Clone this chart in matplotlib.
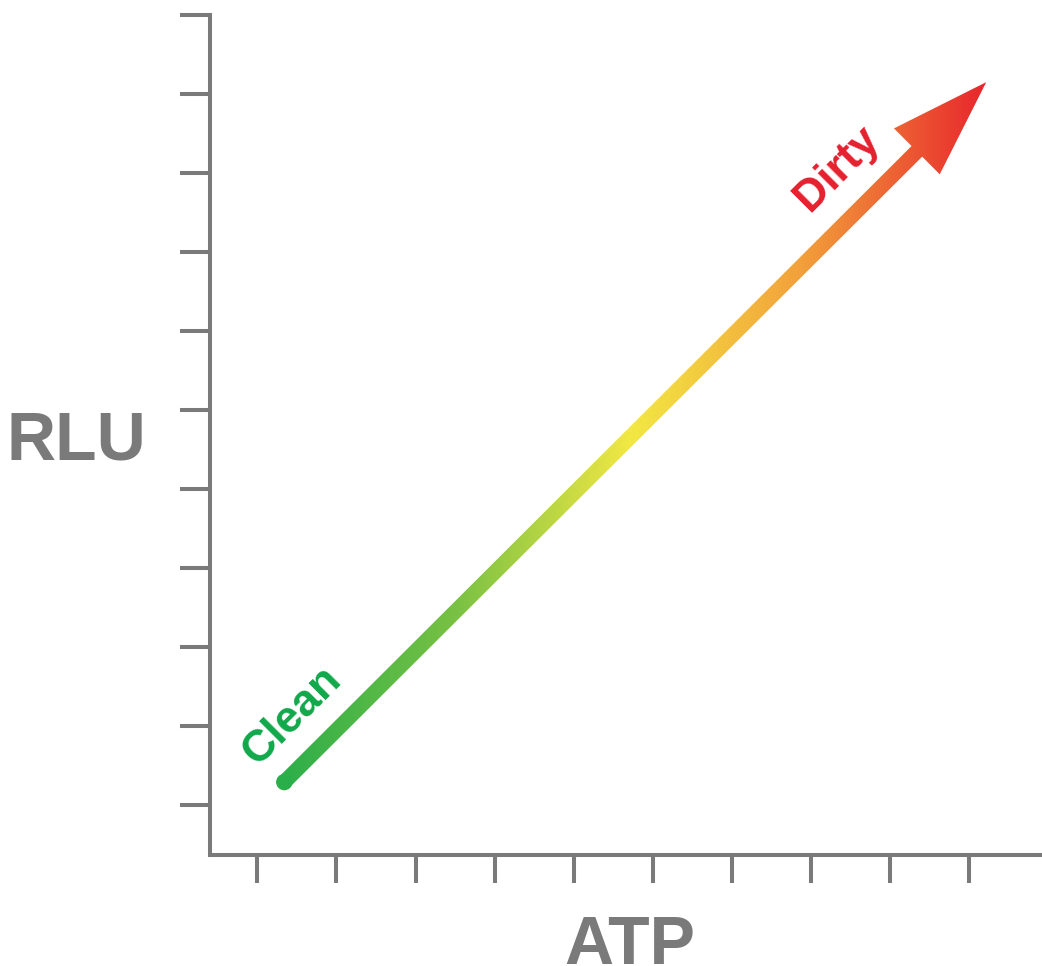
import numpy as np
import matplotlib.pyplot as plt
from matplotlib.patches import FancyArrow, Circle
from matplotlib.colors import LinearSegmentedColormap

plt.rcParams['font.family'] = ['Liberation Sans', 'DejaVu Sans']

# axis ticks (no labels)
x_ticks = list(range(10))
y_ticks = list(range(11))

# arrow: from clean to dirty
arrow_start = (0.33, 0.28)
arrow_end = (9.22, 9.15)

labels = ["Clean", "Dirty"]
label_pos = [(0.44, 1.13), (7.33, 8.06)]
label_colors = ["#10a84a", "#e5202e"]

grad_colors = ["#2aae4a", "#78c143", "#f3e843", "#f2a03b", "#e8262d"]
grad_stops = [0.0, 0.25, 0.5, 0.74, 1.0]

gray = "#7a7a7a"

fig = plt.figure(figsize=(10.42, 9.66), dpi=100)
ax = fig.add_axes([210 / 1042, 111 / 966, 830 / 1042, 840 / 966])
ax.set_xlim(-0.6, 9.9)
ax.set_ylim(-50 / 79, 10)

for s in ["top", "right"]:
    ax.spines[s].set_visible(False)
for s in ["left", "bottom"]:
    ax.spines[s].set_color(gray)
    ax.spines[s].set_linewidth(2.9)
ax.set_xticks(x_ticks)
ax.set_yticks(y_ticks)
ax.set_xticklabels([])
ax.set_yticklabels([])
ax.tick_params(axis="x", length=20, width=2.9, color=gray, direction="out")
ax.tick_params(axis="y", length=21.6, width=2.9, color=gray, direction="out")

# gradient arrow
x0, y0 = arrow_start
x1, y1 = arrow_end
arrow = FancyArrow(x0, y0, x1 - x0, y1 - y0, width=0.19, head_width=0.82,
                   head_length=1.24, length_includes_head=True,
                   facecolor="none", edgecolor="none")
ax.add_patch(arrow)
cmap = LinearSegmentedColormap.from_list("cd", list(zip(grad_stops, grad_colors)))
grad = np.linspace(0, 1, 512).reshape(1, -1)
img = ax.imshow(grad, cmap=cmap, aspect="auto", origin="lower",
                extent=[x0 - 0.1, x1, y0 - 0.1, y1 + 0.1], zorder=3)
img.set_clip_path(arrow)
ax.add_patch(Circle((x0 + 0.01, y0 + 0.01), 0.095, color=grad_colors[0], zorder=3))
ax.set_xlim(-0.6, 9.9)
ax.set_ylim(-50 / 79, 10)

for lab, (lx, ly), c in zip(labels, label_pos, label_colors):
    ax.text(lx, ly, lab, color=c, fontsize=32, fontweight="bold", rotation=45,
            ha="center", va="center", rotation_mode="anchor")

fig.text(76 / 1042, 1 - 441 / 966, "RLU", color=gray, fontsize=49,
         fontweight="bold", ha="center", va="center")
fig.text(630 / 1042, 1 - 946 / 966, "ATP", color=gray, fontsize=49,
         fontweight="bold", ha="center", va="center")

fig.savefig("out.png", dpi=100)
